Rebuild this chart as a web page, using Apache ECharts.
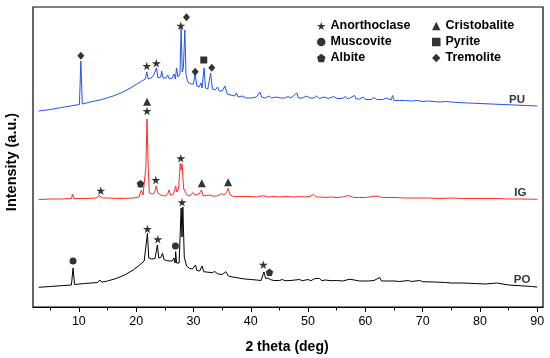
<!DOCTYPE html>
<html>
<head>
<meta charset="utf-8">
<script src="https://cdn.jsdelivr.net/npm/echarts@6/dist/echarts.min.js"></script>
<style>
html,body{margin:0;padding:0;background:#fff;}
#chart{width:550px;height:358px;}
</style>
</head>
<body>
<div id="chart"></div>
<script>
// 2 theta (deg) vs intensity (a.u., offset traces)
var pu = [[3,196],[5,197.5],[7,199.5],[9,201.5],[10.1,202.5],[10.35,246],[10.6,203],[12,205],[14,207.5],[16,211],[17.5,214.5],[19,219],[20,222.5],[21,226],[21.6,228],[21.85,235],[22.1,228],[22.6,229],[23.0,231],[23.3,229],[23.55,239],[23.8,229],[24.3,230],[24.45,236],[24.7,229],[25.2,229],[25.5,232],[25.8,228],[26.3,229],[26.6,233],[26.85,228],[27.05,239],[27.3,230],[27.65,233],[27.85,279],[28.05,235],[28.25,240],[28.5,277],[28.7,232],[29.0,225],[29.6,223],[30.0,223],[30.3,233],[30.6,221],[31.0,220],[31.3,224],[31.5,219],[31.85,239],[32.1,219],[32.5,218],[33.0,234],[33.3,218],[33.8,217],[34.2,220],[34.5,216],[35.0,216],[35.5,221],[35.9,213],[36.5,212],[37.2,211],[37.5,214],[37.8,210],[38.5,211],[39.2,209],[40,209],[41.0,210],[41.6,215],[41.9,210],[42.5,209],[43.2,211],[43.6,209],[44.5,210],[44.8,212],[45.2,209],[46,209],[46.5,210.5],[47,209],[48.05,214],[48.3,209],[49,209],[49.8,211],[50.3,209],[51,209],[51.5,211],[52,208.5],[52.8,210],[53.5,208.5],[54.5,210.5],[55,208.5],[56,208.5],[56.5,210.5],[57,208],[58.1,211.5],[58.4,208],[59,208],[59.6,210],[60,207.5],[61,207.5],[61.5,209.5],[62,207.5],[63,207.5],[63.6,209],[64.5,207],[64.75,211.5],[65,206.5],[66,206.5],[67,206.5],[68,206],[69,206.5],[70,205.5],[71,206],[72,205.5],[73,205],[74,205.5],[75,205],[76,204.5],[78,204],[80,203.5],[82,203],[84,202.5],[86,202],[88,201.5],[90,201]];
var ig = [[3,107.5],[5,108],[7,108],[8.7,108.5],[8.9,113],[9.1,108.5],[11,108.5],[13,109],[13.6,111.5],[14.1,109],[15,109],[17,108.5],[19.5,109],[20.5,110],[20.9,117],[21.2,112],[21.5,114],[21.7,140],[21.9,188],[22.1,140],[22.3,114],[22.8,113],[23.2,114],[23.5,121],[23.8,114],[24.3,112],[25.0,111],[25.5,113],[25.75,117],[26.0,112],[26.5,113],[26.9,121],[27.1,115],[27.4,118],[27.7,143.5],[27.85,137],[28.0,143],[28.3,118],[28.6,117],[28.9,112],[29.4,111],[29.9,114.5],[30.2,112],[30.6,112.5],[31.0,113],[31.4,117],[31.7,111],[32.2,111.5],[32.8,112],[33.3,111],[34.0,111],[34.5,112],[34.9,113.5],[35.3,112],[35.8,115],[36.05,118.7],[36.4,112],[37,110.5],[38,110.5],[39,110.5],[40,110.5],[41,110],[42.2,111.3],[43,110],[44,110.5],[45,110],[46,110.5],[47.5,110],[48.5,110.5],[49.5,110],[50.5,111],[50.95,112.7],[51.4,110],[52,110],[53,109.5],[54,110],[55,109.5],[56,110],[57.1,111.5],[58,109.5],[59,109.5],[60,109.5],[62,111],[63,109.5],[65,109.5],[67,109],[69,109],[71,109],[73,108.5],[75,109],[77,108.5],[80,108.5],[83,108.5],[85,108],[87,108],[90,107.7]];
var po = [[3,19.7],[5,20.5],[7,21.3],[8.7,22],[8.99,39],[9.25,22.5],[11,23.5],[13.3,24.5],[13.65,27],[14.0,24.8],[15,26],[16.5,28.5],[18,32],[19.5,37],[20.5,41.5],[21.4,46],[21.7,48],[21.97,73.7],[22.2,49],[22.7,48],[23.0,50],[23.3,48.5],[23.7,62],[23.95,49],[24.3,49.5],[24.6,53.7],[24.85,47.5],[25.3,46.5],[25.8,46],[26.3,46],[26.6,49],[26.8,44],[26.9,55.3],[27.05,44],[27.5,44],[27.85,99],[28.0,70],[28.15,100],[28.4,50],[28.55,50.3],[28.8,41],[29.3,38.7],[29.8,38],[30.35,42],[30.6,36.5],[31.1,36],[31.5,41],[31.8,35.3],[32.5,34.8],[33.3,34.3],[33.7,35.5],[34.3,33],[35,32.5],[35.65,35.3],[36.1,31],[36.8,30],[37.5,29.5],[38.1,28.7],[39,28],[40,27.5],[41,27],[41.8,26.5],[42.3,35],[42.6,28.5],[43.0,29],[43.4,27.5],[44,26.5],[45,26.5],[45.5,27.5],[46,26.3],[47,26.5],[48.5,27.5],[49,26.3],[50,27.5],[50.5,26.3],[51.2,28.5],[51.5,26.5],[52,28.5],[52.4,26.3],[53,27],[54,26.3],[55,26.5],[56,26],[57.3,27.8],[57.6,26],[59,26],[60.5,26],[61.5,26.5],[62.5,29.5],[62.8,26],[64,26],[65,26],[66,25.5],[67.5,26.5],[68,25.5],[69.5,26.5],[70,25.3],[72,25],[74,24.5],[75,24],[77,24],[79,23.5],[81,23],[82.9,24],[83.2,22.5],[85,22],[87,21.3],[89,20.5],[90,20]];

// phase markers [2theta, height]
var anorthoclase = [[21.86,241],[23.53,243.7],[27.79,281.3],[13.82,116.3],[21.9,196],[23.43,127],[27.79,148.7],[21.97,78],[23.78,67.7],[28.02,104.7],[42.2,42.3]];
var cristobalite = [[21.9,205.3],[31.46,123.7],[36.05,124.7]];
var muscovite = [[8.99,46],[26.85,61]];
var pyrite = [[31.8,247]];
var albite = [[20.75,123.3],[43.27,34.7]];
var tremolite = [[10.35,251.3],[28.78,289.7],[30.3,235.3],[33.2,239.3]];

var sampleLabels = [[86.47,207,'PU'],[87.05,114.3,'IG'],[87.35,27,'PO']];
var xMajorTicks = [10,20,30,40,50,60,70,80,90];
var xMinorTicks = [5,15,25,35,45,55,65,75,85];

var FONT = 'Liberation Sans, Arial, Helvetica, sans-serif';
var STAR = 'path://M50,0 L61,35 L98,35 L68,57 L79,91 L50,70 L21,91 L32,57 L2,35 L39,35 Z';
var PENT = 'path://M50,0 L98,36 L80,95 L20,95 L2,36 Z';

function markerSeries(name, data, symbol, size) {
  return {
    name: name, type: 'scatter', data: data, symbol: symbol, symbolSize: size,
    symbolKeepAspect: true, itemStyle: {color: '#000'}, silent: true, z: 5
  };
}

var legendText = {fontFamily: FONT, fontWeight: 'bold', fontSize: 12.5, color: '#000', lineHeight: 14};

var chart = echarts.init(document.getElementById('chart'), null, {renderer: 'canvas'});
chart.setOption({
  animation: false,
  backgroundColor: '#fff',
  grid: {left: 33, right: 7, top: 7, bottom: 51, show: true, borderColor: '#000', borderWidth: 1.2, backgroundColor: 'transparent'},
  xAxis: [{
    type: 'value', min: 2, max: 91, position: 'bottom',
    axisLine: {show: true, lineStyle: {color: '#000', width: 1.2}},
    axisTick: {show: true, length: 5, customValues: xMajorTicks, lineStyle: {color: '#000'}},
    axisLabel: {show: true, customValues: xMajorTicks, margin: 8, color: '#000', fontSize: 12.5, fontFamily: FONT},
    splitLine: {show: false}
  }, {
    type: 'value', min: 2, max: 91, position: 'bottom',
    axisLine: {show: false},
    axisTick: {show: true, length: 3.5, customValues: xMinorTicks, lineStyle: {color: '#000'}},
    axisLabel: {show: false},
    splitLine: {show: false}
  }],
  yAxis: {
    type: 'value', min: 0, max: 300,
    axisLine: {show: false}, axisTick: {show: false}, axisLabel: {show: false}, splitLine: {show: false}
  },
  legend: [{
    orient: 'vertical', left: 317, top: 19, padding: 0, itemWidth: 8.5, itemHeight: 8.5, itemGap: 2,
    data: ['Anorthoclase', 'Muscovite', 'Albite'],
    textStyle: legendText, selectedMode: false
  }, {
    orient: 'vertical', left: 432, top: 19, padding: 0, itemWidth: 8.5, itemHeight: 8.5, itemGap: 2,
    data: ['Cristobalite', 'Pyrite', 'Tremolite'],
    textStyle: legendText, selectedMode: false
  }],
  graphic: [{
    type: 'text', x: 287, y: 347,
    style: {text: '2 theta (deg)', fontFamily: FONT, fontWeight: 'bold', fontSize: 14, fill: '#000', textAlign: 'center', textVerticalAlign: 'middle'}
  }, {
    type: 'text', x: 12, y: 162, rotation: Math.PI / 2,
    style: {text: 'Intensity (a.u.)', fontFamily: FONT, fontWeight: 'bold', fontSize: 14.5, fill: '#000', textAlign: 'center', textVerticalAlign: 'middle'}
  }],
  series: [
    {name: 'PU', type: 'line', data: pu, showSymbol: false, lineStyle: {color: '#2255ee', width: 1}, itemStyle: {color: '#2255ee'}, silent: true},
    {name: 'IG', type: 'line', data: ig, showSymbol: false, lineStyle: {color: '#ff2a2a', width: 1}, itemStyle: {color: '#ff2a2a'}, silent: true},
    {name: 'PO', type: 'line', data: po, showSymbol: false, lineStyle: {color: '#000', width: 1}, itemStyle: {color: '#000'}, silent: true},
    markerSeries('Anorthoclase', anorthoclase, STAR, 9),
    markerSeries('Cristobalite', cristobalite, 'triangle', 8),
    markerSeries('Muscovite', muscovite, 'circle', 7),
    markerSeries('Pyrite', pyrite, 'rect', 7),
    markerSeries('Albite', albite, PENT, 7.5),
    markerSeries('Tremolite', tremolite, 'diamond', [7, 8]),
    {
      name: 'labels', type: 'scatter', data: sampleLabels, symbolSize: 0, silent: true,
      label: {show: true, position: 'inside', formatter: function (p) { return p.value[2]; },
        fontFamily: FONT, fontWeight: 'bold', fontSize: 11.5, color: '#000'}
    }
  ]
});
</script>
</body>
</html>
